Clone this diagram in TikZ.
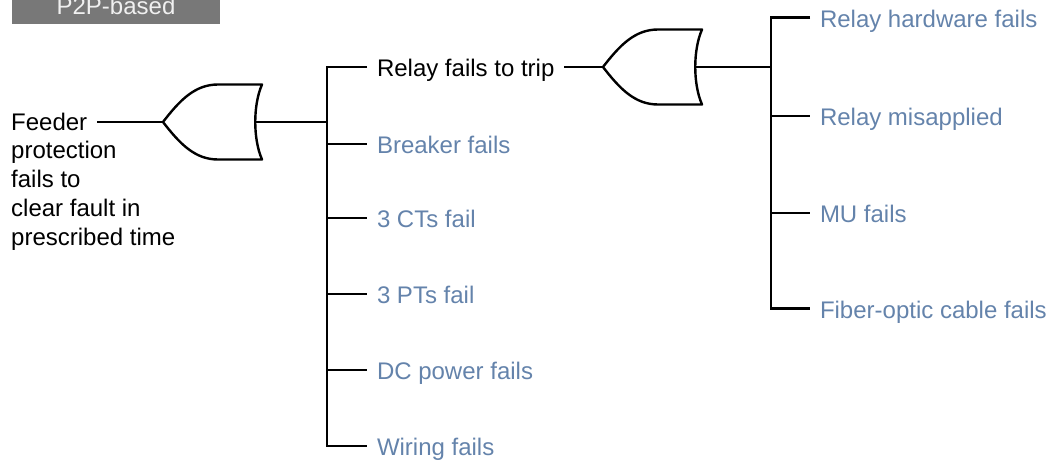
\documentclass[tikz,border=0pt]{standalone}
\usepackage{fontspec}
\setmainfont{Liberation Sans}
\definecolor{evblue}{RGB}{100,131,171}
\definecolor{tabgray}{RGB}{120,120,120}
\definecolor{tabtext}{RGB}{240,240,240}
\newcommand{\bigfont}{\fontsize{24}{28.8}\selectfont}
\tikzset{
  wire/.style={line width=2.4pt},
  evt/.style={anchor=west,inner sep=0pt,outer xsep=10pt,text=evblue,font=\bigfont,text height=22pt,text depth=4pt},
  evtR/.style={evt,text height=25pt,text depth=5pt},
  orgate/.pic={
    \draw[wire,line join=round] (0,0) .. controls (17,-22) and (32,-37.5) .. (55,-37.5) -- (99,-37.5) .. controls (90,-17) and (90,17) .. (99,37.5) -- (55,37.5) .. controls (32,37.5) and (17,22) .. cycle;
    \coordinate (-in) at (0,0);
    \coordinate (-out) at (92.25,0);
  }
}
\begin{document}
\begin{tikzpicture}[x=1pt,y=-1pt]
\useasboundingbox (0,0) rectangle (1053,466);
% tab
\node (tab) [anchor=base, fill=tabgray, text=tabtext, font=\bigfont, inner sep=0pt, minimum width=208pt, text height=24pt, text depth=10pt] at (116,14) {P2P-based};
% top event
\node (feeder) [anchor=base west, inner sep=0pt, font=\bigfont] at (11,130) {\begin{tabular}[t]{@{}l@{}}Feeder\\protection\\fails to\\clear fault in\\prescribed time\end{tabular}};
\coordinate (fd) at (97,122);
\pic (g1) at (163,122) {orgate};
\draw[wire] (fd) -- (g1-in);
% first level
\coordinate (bus1) at (327,0);
\node[evt,text=black] (relay) at (367,67) {Relay fails to trip};
\node[evt] (brk) at (367,144) {Breaker fails};
\node[evt] (ct) at (367,218) {3 CTs fail};
\node[evt] (pt) at (367,294) {3 PTs fail};
\node[evt] (dc) at (367,370) {DC power fails};
\node[evt] (wir) at (367,446) {Wiring fails};
\draw[wire] (g1-out) -- (g1-out -| bus1);
\draw[wire] (relay.west) -- (relay.west -| bus1) -- (wir.west -| bus1) -- (wir.west);
\foreach \n in {brk,ct,pt,dc} \draw[wire] (\n.west -| bus1) -- (\n.west);
% second gate
\pic (g2) at (603,67) {orgate};
\draw[wire] (relay.east) -- (g2-in);
\coordinate (bus2) at (771,0);
\node[evtR] (hw) at (810,17.5) {Relay hardware fails};
\node[evtR] (mis) at (810,115.7) {Relay misapplied};
\node[evtR] (mu) at (810,212.7) {MU fails};
\node[evtR] (fib) at (810,308.3) {Fiber-optic cable fails};
\draw[wire] (g2-out) -- (g2-out -| bus2);
\draw[wire] (hw.west) -- (hw.west -| bus2) -- (fib.west -| bus2) -- (fib.west);
\foreach \n in {mis,mu} \draw[wire] (\n.west -| bus2) -- (\n.west);
\end{tikzpicture}
\end{document}
